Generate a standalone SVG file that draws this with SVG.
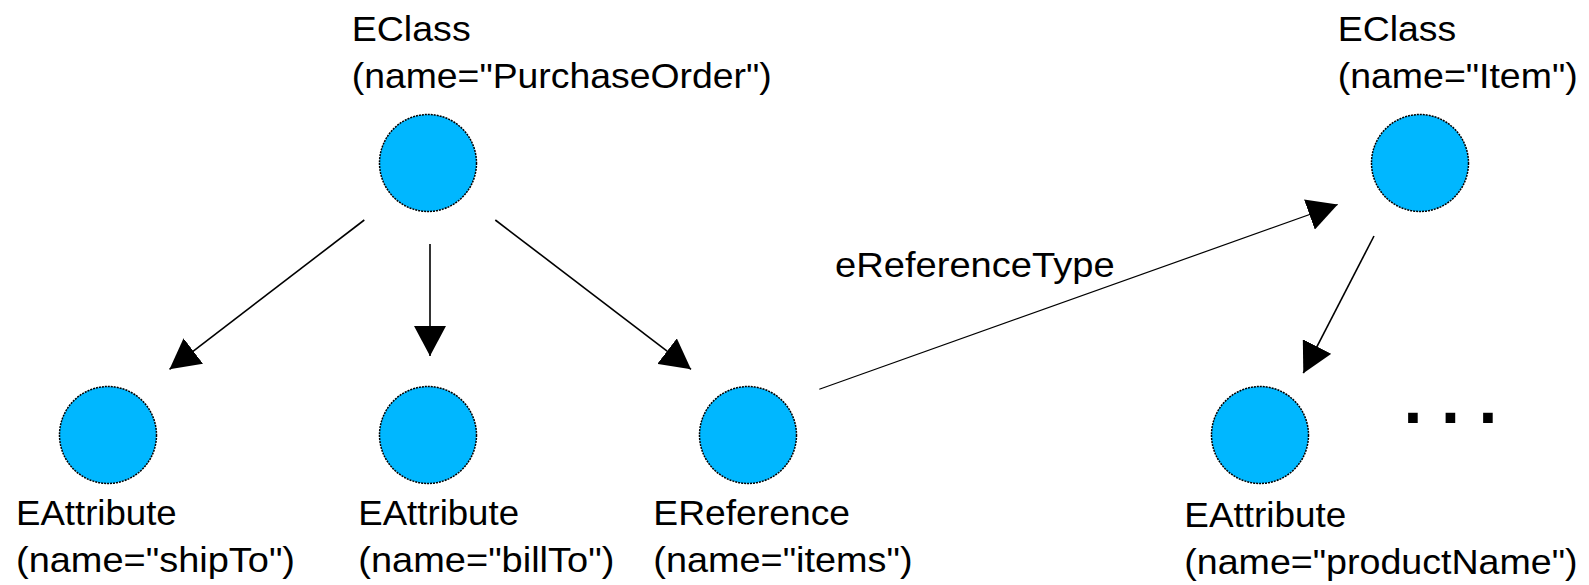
<svg xmlns="http://www.w3.org/2000/svg" width="1589" height="585" viewBox="0 0 1589 585">
<style>
  .node circle { fill: #00B7FF; stroke: #000; stroke-width: 1.5; stroke-dasharray: 2 1; }
  text { font-family: "Liberation Sans", Arial, sans-serif; font-size: 35px; fill: #000; }
  .edge { stroke: #000; stroke-width: 1.6; fill: none; marker-end: url(#arrow); }
  .thin { stroke-width: 1.2; }
  .dots { font-weight: bold; font-size: 68px; letter-spacing: 18.6px; }
</style>
<defs>
  <marker id="arrow" viewBox="0 0 30 32" refX="30" refY="16" markerWidth="30" markerHeight="32" markerUnits="userSpaceOnUse" orient="auto">
    <path d="M0,0 L30,16 L0,32 Z" fill="#000"/>
  </marker>
</defs>
<rect width="1589" height="585" fill="#fff"/>
<g id="connectors">
  <line class="edge" x1="364.3" y1="220" x2="169.5" y2="369.3"/>
  <line class="edge" x1="430" y1="244" x2="430" y2="356"/>
  <line class="edge" x1="495.3" y1="220" x2="691" y2="369.3"/>
  <line class="edge thin" x1="819.3" y1="389.3" x2="1337.7" y2="204.5"/>
  <line class="edge" x1="1374" y1="236" x2="1303.3" y2="373.2"/>
  <text x="835" y="276.7" textLength="279.7" lengthAdjust="spacingAndGlyphs">eReferenceType</text>
</g>
<g id="node-purchaseorder" class="node">
  <circle cx="428" cy="163" r="48.5"/>
  <text x="351.7" y="40.5" textLength="119" lengthAdjust="spacingAndGlyphs">EClass</text>
  <text x="351.7" y="88" textLength="420" lengthAdjust="spacingAndGlyphs">(name="PurchaseOrder")</text>
</g>
<g id="node-item" class="node">
  <circle cx="1420" cy="163" r="48.5"/>
  <text x="1337.7" y="40.5" textLength="118.5" lengthAdjust="spacingAndGlyphs">EClass</text>
  <text x="1337.7" y="88" textLength="240" lengthAdjust="spacingAndGlyphs">(name="Item")</text>
</g>
<g id="node-shipto" class="node">
  <circle cx="108" cy="435" r="48.5"/>
  <text x="16" y="525" textLength="160.7" lengthAdjust="spacingAndGlyphs">EAttribute</text>
  <text x="16" y="572" textLength="279" lengthAdjust="spacingAndGlyphs">(name="shipTo")</text>
</g>
<g id="node-billto" class="node">
  <circle cx="428" cy="435" r="48.5"/>
  <text x="358.3" y="525" textLength="160.7" lengthAdjust="spacingAndGlyphs">EAttribute</text>
  <text x="358.3" y="572" textLength="256" lengthAdjust="spacingAndGlyphs">(name="billTo")</text>
</g>
<g id="node-items" class="node">
  <circle cx="748" cy="435" r="48.5"/>
  <text x="653.3" y="524.5" textLength="196.7" lengthAdjust="spacingAndGlyphs">EReference</text>
  <text x="653.3" y="571.5" textLength="259.3" lengthAdjust="spacingAndGlyphs">(name="items")</text>
</g>
<g id="node-productname" class="node">
  <circle cx="1260" cy="435" r="48.5"/>
  <text x="1184.3" y="527" textLength="162" lengthAdjust="spacingAndGlyphs">EAttribute</text>
  <text x="1184.3" y="574" textLength="393.3" lengthAdjust="spacingAndGlyphs">(name="productName")</text>
</g>
<g id="ellipsis">
  <text class="dots" x="1403.6" y="422.7">...</text>
</g>
</svg>
